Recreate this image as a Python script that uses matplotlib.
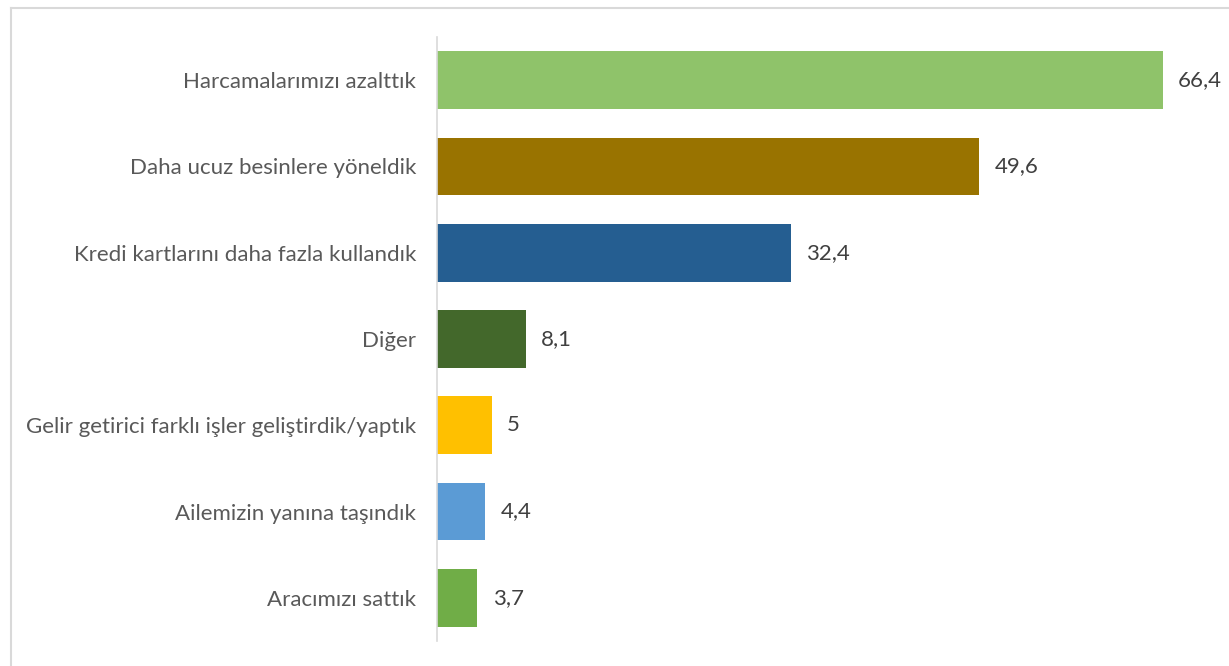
import matplotlib
matplotlib.use("Agg")
import matplotlib.pyplot as plt
from matplotlib.lines import Line2D

categories = [
    "Harcamalarımızı azalttık",
    "Daha ucuz besinlere yöneldik",
    "Kredi kartlarını daha fazla kullandık",
    "Diğer",
    "Gelir getirici farklı işler geliştirdik/yaptık",
    "Ailemizin yanına taşındık",
    "Aracımızı sattık",
]
values = [66.4, 49.6, 32.4, 8.1, 5, 4.4, 3.7]
value_labels = ["66,4", "49,6", "32,4", "8,1", "5", "4,4", "3,7"]
colors = ["#8FC36A", "#997300", "#255E91", "#43682B", "#FFC000", "#5B9BD5", "#70AD47"]

plt.rcParams["font.family"] = ["Lato", "DejaVu Sans"]

W, H = 1229, 666
fig = plt.figure(figsize=(W / 100, H / 100), dpi=100)
ax = fig.add_axes([437 / W, 1 - 641 / H, 787 / W, 604 / H])

ypos = list(range(len(categories)))
ax.barh(ypos, values, height=0.67, color=colors)
ax.set_ylim(len(categories) - 0.5, -0.5)
ax.set_xlim(0, 72)

for y, v, lab in zip(ypos, values, value_labels):
    ax.annotate(lab, (v, y), xytext=(11, 0), textcoords="offset points",
                va="center", ha="left", fontsize=16, color="#404040")

ax.set_yticks(ypos)
ax.set_yticklabels(categories, fontsize=16, color="#595959")
ax.tick_params(axis="y", length=0, pad=15)
ax.set_xticks([])
for s in ["top", "right", "bottom"]:
    ax.spines[s].set_visible(False)
ax.spines["left"].set_color("#D9D9D9")
ax.spines["left"].set_linewidth(1.2)

# chart frame: only the top and left edges are visible (cropped screenshot)
x0, y0 = 10.5 / W, 1 - 7.5 / H
fig.add_artist(Line2D([x0, 1], [y0, y0], transform=fig.transFigure,
                      color="#D9D9D9", linewidth=1.5))
fig.add_artist(Line2D([x0, x0], [0, y0], transform=fig.transFigure,
                      color="#D9D9D9", linewidth=1.5))

fig.savefig("out.png", dpi=100)
